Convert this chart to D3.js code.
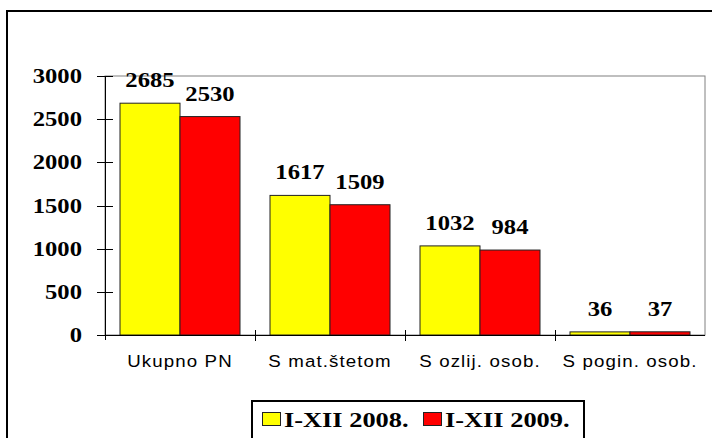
<!DOCTYPE html>
<html><head><meta charset="utf-8">
<script src="https://cdn.jsdelivr.net/npm/d3@7/dist/d3.min.js"></script>
<style>body{margin:0;background:#fff}svg{display:block}</style>
</head><body>
<svg id="c" width="712" height="438"></svg>
<script>
const categories = ["Ukupno PN", "S mat.štetom", "S ozlij. osob.", "S pogin. osob."];
const seriesNames = ["I-XII 2008.", "I-XII 2009."];
const values2008 = [2685, 1617, 1032, 36];
const values2009 = [2530, 1509, 984, 37];
const yTicks = [0, 500, 1000, 1500, 2000, 2500, 3000];
const colors = ["#FFFF00", "#FF0000"];

const svg = d3.select("#c");
const L = 105, R = 705, T = 76, B = 335;
const serif = "'Liberation Serif','Times New Roman',serif";
const sans = "'Liberation Sans',Arial,sans-serif";

function stretchText(sel, x, y, sx) {
  return sel.append("text").attr("transform", `translate(${x},${y}) scale(${sx},1)`);
}

// outer border
svg.append("rect").attr("x", 7).attr("y", 11).attr("width", 720).attr("height", 450)
  .attr("fill", "none").attr("stroke", "#000").attr("stroke-width", 2);

const x = d3.scaleBand().domain(categories).range([L, R]).paddingInner(0).paddingOuter(0);
const inner = d3.scaleBand().domain([0, 1]).range([15, x.bandwidth() - 15]);
const y = d3.scaleLinear().domain([0, 3000]).range([B, T]);

// plot area border
svg.append("rect").attr("x", L).attr("y", T).attr("width", R - L).attr("height", B - T)
  .attr("fill", "none").attr("stroke", "#808080").attr("stroke-width", 1);

const data = categories.map((c, i) => ({c, vals: [values2008[i], values2009[i]]}));

const g = svg.append("g");
data.forEach(d => {
  d.vals.forEach((v, k) => {
    const bx = x(d.c) + inner(k), bw = inner.bandwidth();
    g.append("rect").attr("x", bx).attr("y", y(v)).attr("width", bw).attr("height", B - y(v))
      .attr("fill", colors[k]).attr("stroke", "#222").attr("stroke-width", 1);
    stretchText(g, bx + bw / 2, y(v) - 16, 1.12)
      .attr("text-anchor", "middle").attr("font-family", serif).attr("font-weight", "bold")
      .attr("font-size", 22).text(v);
  });
});

// y axis
const yAxis = d3.axisLeft(y).tickValues(yTicks).tickSize(0).tickPadding(0);
const ya = svg.append("g").attr("transform", `translate(${L},0)`).call(yAxis);
ya.select(".domain").remove();
ya.selectAll("text").remove();
svg.append("line").attr("x1", L + 0.5).attr("x2", L + 0.5).attr("y1", T).attr("y2", B + 5).attr("stroke", "#000");
yTicks.forEach(t => {
  svg.append("line").attr("x1", L - 8).attr("x2", L + 8).attr("y1", Math.round(y(t)) + 0.5).attr("y2", Math.round(y(t)) + 0.5).attr("stroke", "#000");
  stretchText(svg, 82, y(t) + 7, 1.12).attr("text-anchor", "end")
    .attr("font-family", serif).attr("font-weight", "bold").attr("font-size", 22).text(t);
});

// x axis
svg.append("line").attr("x1", L - 8).attr("x2", R).attr("y1", B + 0.5).attr("y2", B + 0.5).attr("stroke", "#000");
const bounds = categories.map(c => x(c)).concat([R]);
bounds.slice(1, 4).forEach(bx => {
  svg.append("line").attr("x1", bx + 0.5).attr("x2", bx + 0.5).attr("y1", B - 5).attr("y2", B + 6).attr("stroke", "#000");
});
categories.forEach(c => {
  stretchText(svg, x(c) + x.bandwidth() / 2, 367, 1.1)
    .attr("text-anchor", "middle").attr("font-family", sans).attr("font-size", 17)
    .attr("letter-spacing", 1.0).text(c);
});

// legend
svg.append("rect").attr("x", 252).attr("y", 401).attr("width", 332).attr("height", 60)
  .attr("fill", "#fff").attr("stroke", "#000").attr("stroke-width", 2);
const legX = [262, 423];
seriesNames.forEach((n, k) => {
  svg.append("rect").attr("x", legX[k] + 0.5).attr("y", 412.5).attr("width", 18).attr("height", 13)
    .attr("fill", colors[k]).attr("stroke", "#222");
  stretchText(svg, legX[k] + 22, 427, 1.2)
    .attr("font-family", serif).attr("font-weight", "bold").attr("font-size", 22).text(n);
});
</script>
</body></html>
